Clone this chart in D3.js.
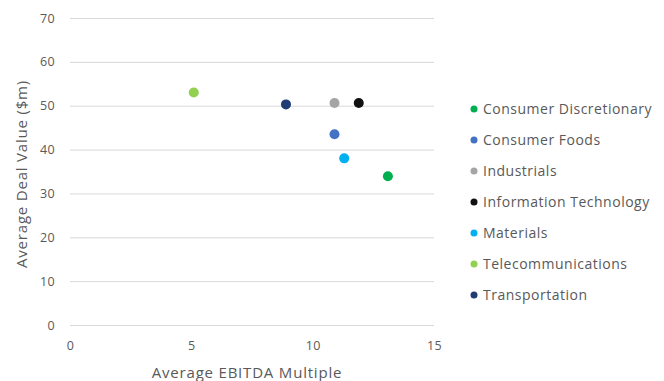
<!DOCTYPE html>
<html>
<head>
<meta charset="utf-8">
<script src="https://cdn.jsdelivr.net/npm/d3@7"></script>
<style>
  html, body { margin: 0; padding: 0; background: #fff; }
  svg { display: block; }
  text { font-family: "Open Sans", "DejaVu Sans", sans-serif; }
</style>
</head>
<body>
<svg id="chart" width="664" height="381"></svg>
<script>
// Sector averages: EBITDA multiple vs deal value ($m)
const sectors = ["Consumer Discretionary", "Consumer Foods", "Industrials", "Information Technology", "Materials", "Telecommunications", "Transportation"];
const ebitdaMultiple = [13.1, 10.9, 10.9, 11.9, 11.3, 5.1, 8.9];
const dealValue = [33.9, 43.5, 50.6, 50.6, 38.0, 53.0, 50.3];
const sectorColors = ["#00B050", "#4472C4", "#A5A5A5", "#111111", "#00B0F0", "#92D050", "#1F3C74"];
const xTicks = [0, 5, 10, 15];
const yTicks = [0, 10, 20, 30, 40, 50, 60, 70];

const svg = d3.select("#chart");
const plot = { left: 70, right: 434, top: 18, bottom: 325 };

const x = d3.scaleLinear().domain([0, 15]).range([plot.left, plot.right]);
const y = d3.scaleLinear().domain([0, 70]).range([plot.bottom, plot.top]);

const textColor = "#595959";

// horizontal gridlines with value labels
const yAxis = d3.axisLeft(y).tickValues(yTicks).tickSize(-(plot.right - plot.left)).tickPadding(15);
const yg = svg.append("g").attr("transform", `translate(${plot.left},0)`).call(yAxis);
yg.select(".domain").remove();
yg.selectAll(".tick line").attr("stroke", "#d9d9d9").attr("stroke-width", 1);
yg.selectAll(".tick text").attr("fill", textColor).style("font-size", "12.5px").style("letter-spacing", "0.3px");

// x axis labels only
const xAxis = d3.axisBottom(x).tickValues(xTicks).tickSize(0).tickPadding(16);
const xg = svg.append("g").attr("transform", `translate(0,${plot.bottom})`).call(xAxis);
xg.select(".domain").remove();
xg.selectAll(".tick text").attr("fill", textColor).style("font-size", "12.5px").style("letter-spacing", "0.3px");

// axis titles
svg.append("text")
  .attr("x", 247)
  .attr("y", 378)
  .attr("text-anchor", "middle")
  .attr("fill", textColor)
  .style("font-size", "15px")
  .style("letter-spacing", "0.8px")
  .text("Average EBITDA Multiple");

svg.append("text")
  .attr("transform", `translate(27,174) rotate(-90)`)
  .attr("text-anchor", "middle")
  .attr("fill", textColor)
  .style("font-size", "15px")
  .style("letter-spacing", "0.8px")
  .text("Average Deal Value ($m)");

// points
svg.append("g").selectAll("circle")
  .data(sectors)
  .join("circle")
  .attr("cx", (d, i) => x(ebitdaMultiple[i]))
  .attr("cy", (d, i) => y(dealValue[i]))
  .attr("r", 5)
  .attr("fill", (d, i) => sectorColors[i]);

// legend
const legend = svg.append("g").attr("transform", "translate(474,109)");
const rows = legend.selectAll("g")
  .data(sectors)
  .join("g")
  .attr("transform", (d, i) => `translate(0,${i * 31})`);
rows.append("circle").attr("r", 3.5).attr("fill", (d, i) => sectorColors[i]);
rows.append("text")
  .attr("x", 9)
  .attr("dy", "0.35em")
  .attr("fill", textColor)
  .style("font-size", "14px")
  .style("letter-spacing", "0.5px")
  .text(d => d);
</script>
</body>
</html>
